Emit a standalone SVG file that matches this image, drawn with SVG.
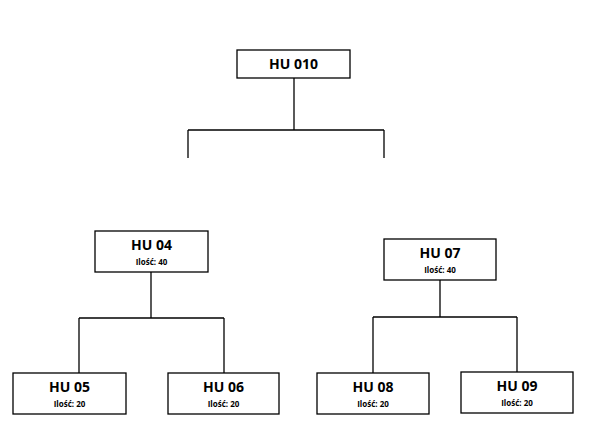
<svg xmlns="http://www.w3.org/2000/svg" width="592" height="444" viewBox="0 0 592 444">
<style>
rect{fill:#fff;stroke:#000;stroke-width:1.3}
.c line{stroke:#000;stroke-width:1.3}
.t{font-family:"Open Sans","Liberation Sans",sans-serif;font-weight:bold;font-size:14px;text-anchor:middle;fill:#000}
.s{font-family:"Open Sans","Liberation Sans",sans-serif;font-weight:bold;font-size:8px;text-anchor:middle;fill:#000}
</style>
<rect width="592" height="444" style="fill:#fff;stroke:none"/>
<g class="c" id="connectors">
<line x1="294" y1="78" x2="294" y2="130"/>
<line x1="188" y1="130" x2="384" y2="130"/>
<line x1="188" y1="130" x2="188" y2="158"/>
<line x1="384" y1="130" x2="384" y2="158"/>
<line x1="151" y1="272" x2="151" y2="318"/>
<line x1="79" y1="318" x2="224" y2="318"/>
<line x1="79" y1="318" x2="79" y2="373"/>
<line x1="224" y1="318" x2="224" y2="373"/>
<line x1="440" y1="280" x2="440" y2="317"/>
<line x1="373" y1="317" x2="517" y2="317"/>
<line x1="373" y1="317" x2="373" y2="373"/>
<line x1="517" y1="317" x2="517" y2="372"/>
</g>
<g id="hu010"><rect x="237" y="50" width="113" height="28"/><text class="t" x="293.5" y="69">HU 010</text></g>
<g id="hu04"><rect x="95" y="231" width="113" height="41"/><text class="t" x="151.5" y="250">HU 04</text><text class="s" x="151.5" y="265">Ilość: 40</text></g>
<g id="hu07"><rect x="384" y="239" width="112" height="41"/><text class="t" x="440" y="258">HU 07</text><text class="s" x="440" y="273">Ilość: 40</text></g>
<g id="hu05"><rect x="13" y="373" width="113" height="41"/><text class="t" x="69.5" y="392">HU 05</text><text class="s" x="69.5" y="407">Ilość: 20</text></g>
<g id="hu06"><rect x="168" y="373" width="111" height="41"/><text class="t" x="223.5" y="392">HU 06</text><text class="s" x="223.5" y="407">Ilość: 20</text></g>
<g id="hu08"><rect x="317" y="373" width="112" height="41"/><text class="t" x="373" y="392">HU 08</text><text class="s" x="373" y="407">Ilość: 20</text></g>
<g id="hu09"><rect x="461" y="372" width="112" height="41"/><text class="t" x="517" y="391">HU 09</text><text class="s" x="517" y="406">Ilość: 20</text></g>
</svg>
